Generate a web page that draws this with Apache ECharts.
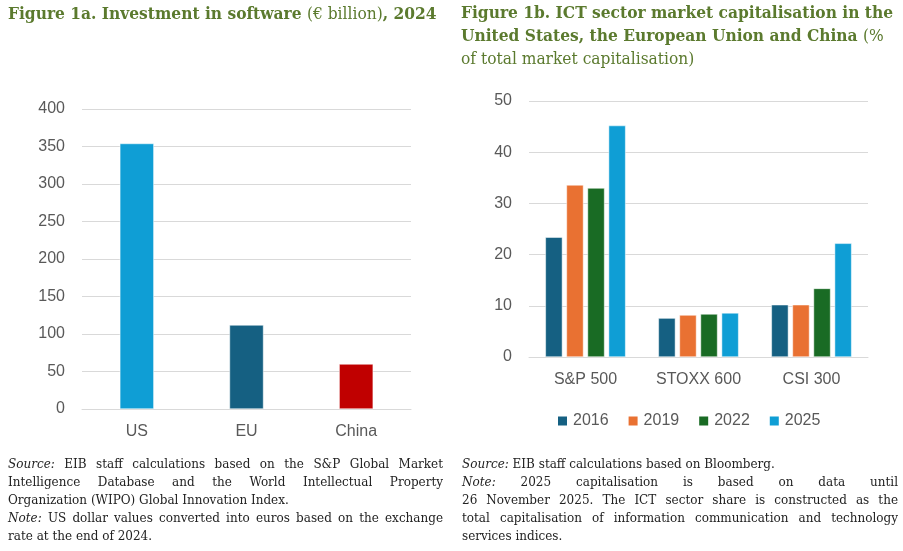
<!DOCTYPE html>
<html>
<head>
<meta charset="utf-8">
<script src="https://cdn.jsdelivr.net/npm/echarts@6/dist/echarts.min.js"></script>
<style>
  html, body { margin: 0; padding: 0; background: #fff; }
  #page { position: relative; width: 903px; height: 551px; overflow: hidden; }
  #chart { position: absolute; left: 0; top: 0; width: 903px; height: 551px; }
  .title { position: absolute; color: #5b7a2e; font-family: "DejaVu Serif Condensed", "DejaVu Serif", serif; font-weight: bold; font-size: 17.2px; line-height: 23px; }
  .title span { font-weight: normal; }
  .note { position: absolute; color: #222; font-family: "DejaVu Serif", serif; font-size: 12px; line-height: 18px; }
  .note div { white-space: nowrap; text-align: justify; text-align-last: justify; }
  .note div.end { text-align-last: left; }
  .note i { font-style: italic; }
</style>
</head>
<body>
<div id="page">
  <div id="chart"></div>
  <div class="title" style="left:8px; top:2px; width:445px;">Figure 1a. Investment in software <span>(€ billion)</span>, 2024</div>
  <div class="title" style="left:461px; top:1px; width:440px;">Figure 1b. ICT sector market capitalisation in the United States, the European Union and China <span>(%<br>of total market capitalisation)</span></div>
  <div class="note" style="left:8px; top:455px; width:435px;">
    <div><i>Source:</i> EIB staff calculations based on the S&amp;P Global Market</div>
    <div>Intelligence Database and the World Intellectual Property</div>
    <div class="end">Organization (WIPO) Global Innovation Index.</div>
    <div><i>Note:</i> US dollar values converted into euros based on the exchange</div>
    <div class="end">rate at the end of 2024.</div>
  </div>
  <div class="note" style="left:462px; top:455px; width:436px;">
    <div class="end"><i>Source:</i> EIB staff calculations based on Bloomberg.</div>
    <div><i>Note:</i> 2025 capitalisation is based on data until</div>
    <div>26 November 2025. The ICT sector share is constructed as the</div>
    <div>total capitalisation of information communication and technology</div>
    <div class="end">services indices.</div>
  </div>
</div>
<script>
// figure 1a
const regions = ['US', 'EU', 'China'];
const softwareInvest = [354, 112, 60];
const regionColors = ['#0f9ed5', '#156082', '#c00000'];
const investTicks = { min: 0, max: 400, interval: 50 };

// figure 1b
const indices = ['S&P 500', 'STOXX 600', 'CSI 300'];
const years = ['2016', '2019', '2022', '2025'];
const cap2016 = [23.4, 7.6, 10.2];
const cap2019 = [33.6, 8.2, 10.2];
const cap2022 = [33.0, 8.4, 13.4];
const cap2025 = [45.2, 8.6, 22.2];
const yearColors = ['#156082', '#e97132', '#196b24', '#0f9ed5'];
const capTicks = { min: 0, max: 50, interval: 10 };

const labelFont = '"Liberation Sans", Arial, sans-serif';
const gridLine = { lineStyle: { color: '#d9d9d9', width: 1 } };

const myChart = echarts.init(document.getElementById('chart'));

const axisX = (idx, data) => ({
    type: 'category',
    gridIndex: idx,
    data: data,
    axisTick: { show: false },
    axisLine: { lineStyle: { color: '#d9d9d9' } },
    axisLabel: { color: '#595959', fontSize: 16, fontFamily: labelFont, margin: 15 }
});
const axisY = (idx, ticks) => ({
    type: 'value',
    gridIndex: idx,
    min: ticks.min,
    max: ticks.max,
    interval: ticks.interval,
    axisLine: { show: false },
    axisTick: { show: false },
    splitLine: gridLine,
    axisLabel: { color: '#595959', fontSize: 16, fontFamily: labelFont, margin: 17 }
});

const capSeries = [cap2016, cap2019, cap2022, cap2025].map((vals, i) => {
    return {
        name: years[i],
        type: 'bar',
        xAxisIndex: 1,
        yAxisIndex: 1,
        data: vals,
        barWidth: 17,
        barGap: '24%',
        itemStyle: { color: yearColors[i], borderColor: '#fff', borderWidth: 0.5 }
    };
});

const option = {
    animation: false,
    textStyle: { fontFamily: labelFont },
    grid: [
        { left: 82, right: 492, top: 109, bottom: 142 },
        { left: 529, right: 35, top: 101, bottom: 194 }
    ],
    legend: {
        data: years.map((y, i) => ({ name: y, icon: 'rect', itemStyle: { color: yearColors[i] } })),
        left: 551,
        top: 408,
        itemWidth: 11,
        itemHeight: 11,
        itemGap: 18,
        textStyle: { color: '#595959', fontSize: 16, fontFamily: labelFont }
    },
    xAxis: [axisX(0, regions), axisX(1, indices)],
    yAxis: [axisY(0, investTicks), axisY(1, capTicks)],
    series: [{
        name: 'Investment',
        type: 'bar',
        xAxisIndex: 0,
        yAxisIndex: 0,
        barWidth: 34,
        data: softwareInvest.map((v, i) => ({ value: v, itemStyle: { color: regionColors[i] } })),
        itemStyle: { borderColor: '#fff', borderWidth: 0.5 }
    }].concat(capSeries)
};
myChart.setOption(option);
</script>
</body>
</html>
